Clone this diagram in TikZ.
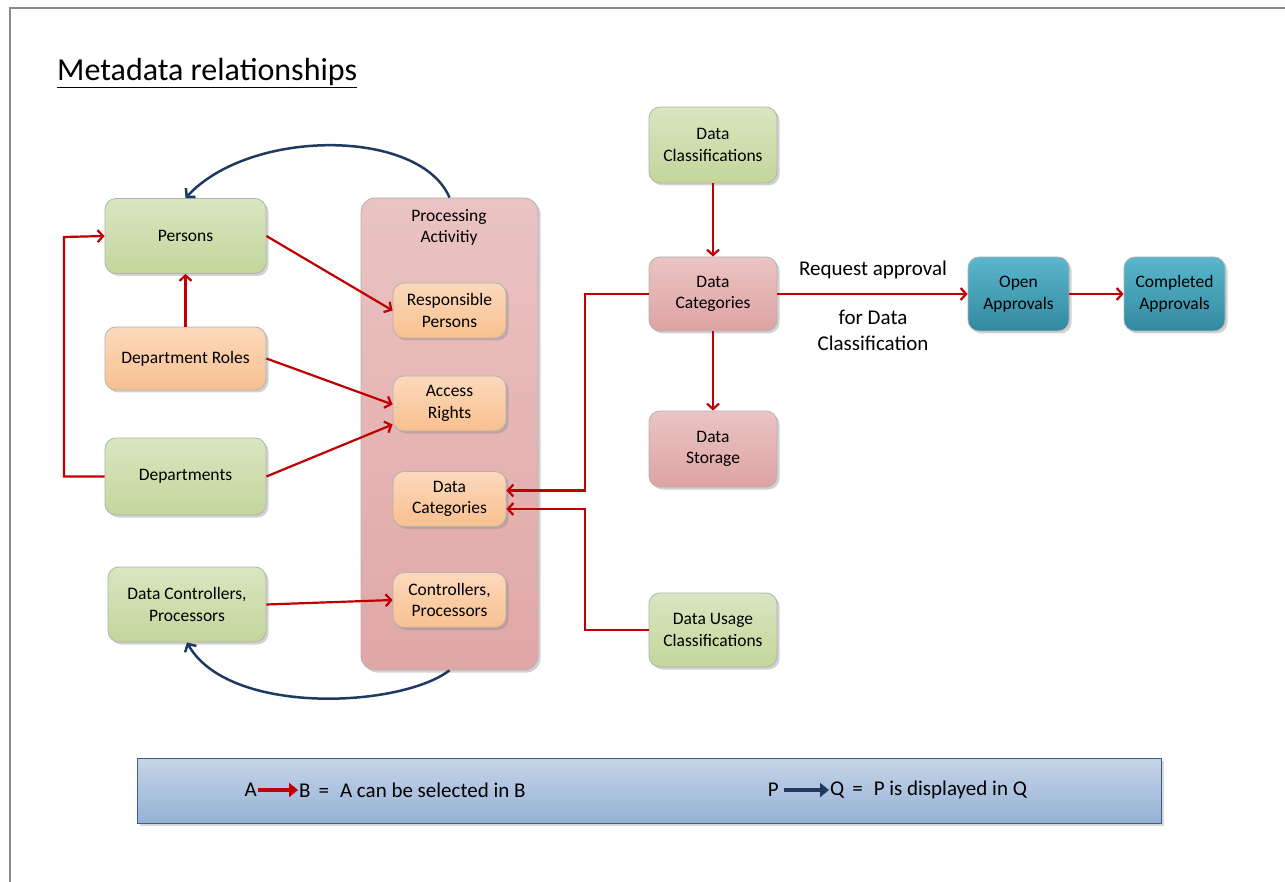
\documentclass[tikz,border=0pt]{standalone}
\usepackage{fontspec}
\setmainfont{Carlito}
\usetikzlibrary{shadows,arrows.meta,calc}
\definecolor{redarrow}{HTML}{C00000}
\definecolor{bluearrow}{HTML}{1F3A60}
\definecolor{greenT}{HTML}{D9E6C1}
\definecolor{greenB}{HTML}{C3D69B}
\definecolor{orangeT}{HTML}{FCD9BC}
\definecolor{orangeB}{HTML}{F8C08F}
\definecolor{pinkT}{HTML}{EBC4C4}
\definecolor{pinkB}{HTML}{DDA3A2}
\definecolor{paT}{HTML}{EBC3C3}
\definecolor{paB}{HTML}{E0A7A6}
\definecolor{tealT}{HTML}{5AB7CE}
\definecolor{tealB}{HTML}{31899F}
\definecolor{legT}{HTML}{C7D5E8}
\definecolor{legB}{HTML}{94B1D6}
\definecolor{legD}{HTML}{3A5F8C}
\begin{document}
\begin{tikzpicture}[x=1pt,y=-1pt,
  box/.style={draw=black!30, line width=0.8pt, rounded corners=11pt, align=center,
    font=\fontsize{17.5}{21.5}\selectfont, inner sep=2pt,
    drop shadow={shadow xshift=2.5pt,shadow yshift=-2.5pt,opacity=0.35}},
  greenbox/.style={box, top color=greenT, bottom color=greenB},
  orangebox/.style={box, top color=orangeT, bottom color=orangeB},
  pinkbox/.style={box, top color=pinkT, bottom color=pinkB},
  tealbox/.style={box, top color=tealT, bottom color=tealB},
  big/.style={minimum width=161pt, minimum height=75pt},
  mid/.style={minimum width=128pt, minimum height=76pt},
  small/.style={minimum width=113pt, minimum height=55pt},
  sel/.style={draw=redarrow, line width=2.2pt, -{Straight Barb[length=5.5pt,width=12pt]}},
  disp/.style={draw=bluearrow, line width=2.5pt, -{Straight Barb[length=6pt,width=13pt]}},
  plain/.style={font=\fontsize{21}{26}\selectfont, align=center, inner sep=0pt},
  legtext/.style={font=\fontsize{21}{24}\selectfont, inner sep=1pt}
]
\useasboundingbox (0,0) rectangle (1285,882);
\fill[white] (0,0) rectangle (1285,882);
\draw[black!45, line width=2pt] (10,882) -- (10,8) -- (1285,8);

\node[anchor=base west, inner sep=0pt, font=\fontsize{32}{36}\selectfont] (title) at (57,81) {\underline{Metadata relationships}};

% processing activity container
\node[box, top color=paT, bottom color=paB, minimum width=177pt, minimum height=472pt, rounded corners=14pt] (pa) at (449.5,434) {};
\node[align=center, font=\fontsize{17.5}{21.5}\selectfont, inner sep=0pt] (patitle) at (449,227.5) {Processing\\Activitiy};

% left column
\node[greenbox, big] (persons) at (185.5,236) {Persons};
\node[orangebox, big, minimum height=63pt] (roles) at (185.5,358.5) {Department Roles};
\node[greenbox, big, minimum height=77pt] (depts) at (185.5,476.5) {Departments};
\node[greenbox, minimum width=158pt, minimum height=75pt] (dcp) at (187,604.5) {Data Controllers,\\Processors};

% inner boxes
\node[orangebox, small] (rp) at (449.5,310.5) {Responsible\\Persons};
\node[orangebox, small] (ar) at (449.5,403.5) {Access\\Rights};
\node[orangebox, small] (dci) at (449.5,499) {Data\\Categories};
\node[orangebox, small] (cp) at (449.5,600) {Controllers,\\Processors};

% right column
\node[greenbox, mid] (dclass) at (713,145) {Data\\Classifications};
\node[pinkbox, mid, minimum height=74pt] (dcat) at (713,294) {Data\\Categories};
\node[pinkbox, mid] (dstor) at (713,449) {Data\\Storage};
\node[greenbox, mid, minimum height=74pt] (dusage) at (713,630) {Data Usage\\Classifications};

\node[tealbox, minimum width=101pt, minimum height=74pt] (open) at (1018.5,294) {Open\\Approvals};
\node[tealbox, minimum width=101pt, minimum height=74pt] (done) at (1174.5,294) {Completed\\Approvals};

\node[plain] (req) at (873,270) {Request approval};
\node[plain] (forc) at (873,330) {for Data\\Classification};

% red "can be selected in" arrows
\draw[sel] (depts.west) -- (64,476.5) -- (64,237) -- (persons.west);
\draw[sel] (roles.north) -- (persons.south);
\draw[sel] (persons.east) -- (rp.west);
\draw[sel] (roles.east) -- ([yshift=-1pt]ar.west);
\draw[sel] (depts.east) -- ([yshift=-21pt]ar.west);
\draw[sel] (dcp.east) -- (cp.west);
\draw[sel] (dcat.west) -- (585,294) -- (585,490.5) -- ([yshift=8.5pt]dci.east);
\draw[sel] (dusage.west) -- (585,630) -- (585,509) -- ([yshift=-10pt]dci.east);
\draw[sel] (dclass.south) -- (dcat.north);
\draw[sel] (dcat.south) -- (dstor.north);
\draw[sel] (dcat.east) -- (open.west);
\draw[sel] (open.east) -- (done.west);

% blue "is displayed in" arrows
\draw[disp] (pa.north) .. controls (420,128) and (250,128) .. (persons.north);
\draw[disp] (pa.south) .. controls (400,708) and (228,716) .. (dcp.south);

% legend
\node[draw=legD, line width=1pt, top color=legT, bottom color=legB, minimum width=1024pt, minimum height=65pt, inner sep=0pt,
  drop shadow={shadow xshift=2.5pt,shadow yshift=-2.5pt,opacity=0.3}] (legend) at (649,790.5) {};
\node[legtext, anchor=east] (la) at (258,790) {A};
\node[legtext, anchor=west] (lb) at (298,790) {B\hspace{8pt}=\hspace{11pt}A can be selected in B};
\draw[draw=redarrow, line width=3.5pt, -{Triangle[length=9pt,width=14pt]}] (la.east) -- (lb.west);
\node[legtext, anchor=east] (lp) at (780,790) {P};
\node[legtext, anchor=west] (lq) at (829,790) {Q\hspace{8pt}=\hspace{11pt}P is displayed in Q};
\draw[draw=bluearrow, line width=3.5pt, -{Triangle[length=9pt,width=14pt]}] ([xshift=4pt]lp.east) -- (lq.west);
\end{tikzpicture}
\end{document}
